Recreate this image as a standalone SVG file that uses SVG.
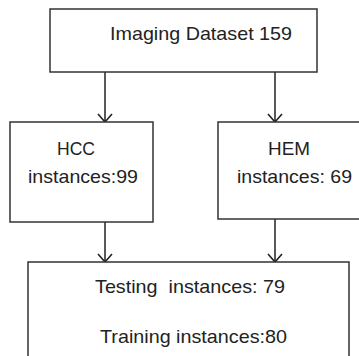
<svg xmlns="http://www.w3.org/2000/svg" width="359" height="356" viewBox="0 0 359 356">
<style>
.box{fill:#fff;stroke:#333;stroke-width:1.5}
.lbl{font-family:"Liberation Sans",Arial,sans-serif;font-size:19px;fill:#222}
.conn{stroke:#222;stroke-width:1.5;fill:none}
</style>
<defs>
<marker id="arr" viewBox="0 0 10 16" refX="9" refY="8" markerWidth="10" markerHeight="16" markerUnits="userSpaceOnUse" orient="auto">
<path d="M1,1 L9,8 L1,15" fill="none" stroke="#222" stroke-width="1.6"/>
</marker>
</defs>
<rect width="359" height="356" fill="#fff"/>
<g id="connectors">
<line class="conn" x1="105" y1="72" x2="105" y2="122" marker-end="url(#arr)"/>
<line class="conn" x1="275" y1="72" x2="275" y2="122" marker-end="url(#arr)"/>
<line class="conn" x1="105" y1="222" x2="105" y2="262" marker-end="url(#arr)"/>
<line class="conn" x1="275" y1="219" x2="275" y2="262" marker-end="url(#arr)"/>
</g>
<g id="dataset">
<rect class="box" x="50" y="9" width="267" height="63"/>
<text class="lbl" x="110" y="40" textLength="182" lengthAdjust="spacingAndGlyphs">Imaging Dataset 159</text>
</g>
<g id="hcc">
<rect class="box" x="10" y="122" width="143" height="100"/>
<text class="lbl" x="57" y="155" textLength="38" lengthAdjust="spacingAndGlyphs">HCC</text>
<text class="lbl" x="28" y="183" textLength="110" lengthAdjust="spacingAndGlyphs">instances:99</text>
</g>
<g id="hem">
<rect class="box" x="218" y="122" width="150" height="97"/>
<text class="lbl" x="268" y="155" textLength="42" lengthAdjust="spacingAndGlyphs">HEM</text>
<text class="lbl" x="237" y="183" textLength="115" lengthAdjust="spacingAndGlyphs">instances: 69</text>
</g>
<g id="split">
<rect class="box" x="28" y="262" width="321" height="100"/>
<text class="lbl" x="95" y="293" textLength="190" lengthAdjust="spacingAndGlyphs" xml:space="preserve">Testing  instances: 79</text>
<text class="lbl" x="100" y="343" textLength="187" lengthAdjust="spacingAndGlyphs">Training instances:80</text>
</g>
</svg>
